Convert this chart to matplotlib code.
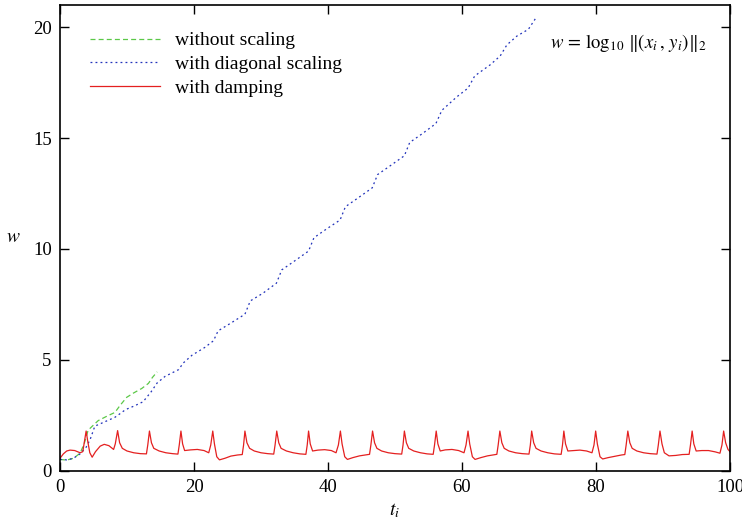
import matplotlib
matplotlib.use("Agg")
import matplotlib.pyplot as plt

plt.rcParams['font.family'] = ['Liberation Serif', 'DejaVu Serif']
plt.rcParams['mathtext.fontset'] = 'stix'

# ---- data ----
green_t = [0.0, 1.0, 2.0, 3.0, 3.6, 4.2, 5.0, 5.7, 7.0, 8.2, 9.0, 9.95, 11.0, 12.2, 13.2, 13.8, 14.5]
green_w = [0.50, 0.47, 0.55, 0.78, 1.20, 1.82, 2.05, 2.25, 2.45, 2.62, 2.95, 3.30, 3.50, 3.70, 3.93, 4.20, 4.45]

blue_t = [0.0, 1.0, 2.0, 3.0, 3.9, 4.5, 5.2, 6.7, 8.2, 8.9, 9.8, 11.0, 12.4, 13.6, 14.5, 15.7,
          17.7, 18.4, 19.7, 21.6, 22.9, 23.6, 25.5, 27.6, 28.4, 30.3, 32.3, 33.1, 35.0, 37.1,
          37.9, 39.8, 41.8, 42.6, 44.5, 46.6, 47.4, 49.3, 51.4, 52.2, 54.1, 56.1, 57.0, 59.2,
          60.9, 61.9, 64.2, 65.7, 66.7, 68.2, 69.9, 71.1]
blue_w = [0.50, 0.48, 0.55, 0.75, 1.05, 1.40, 2.00, 2.20, 2.40, 2.55, 2.75, 2.90, 3.10, 3.55, 3.95, 4.25,
          4.55, 4.85, 5.20, 5.55, 5.85, 6.30, 6.65, 7.05, 7.65, 8.00, 8.45, 9.05, 9.45, 9.90,
          10.50, 10.90, 11.30, 11.90, 12.30, 12.75, 13.35, 13.75, 14.20, 14.80, 15.20, 15.65, 16.25, 16.85,
          17.25, 17.80, 18.30, 18.70, 19.20, 19.60, 19.90, 20.45]

red_t = [0.0, 0.5, 1.0, 1.5, 2.2, 3.0, 3.4, 3.65, 3.9, 4.15, 4.45, 4.8, 5.3, 6.0, 6.6, 7.3, 8.0, 8.25, 8.6,
         8.9, 9.3, 10.0, 11.0, 12.0, 12.9, 13.1, 13.35,
         13.65, 14.0, 14.8, 15.8, 16.8, 17.6, 17.8, 18.05,
         18.3, 18.6, 19.5, 20.5, 21.5, 22.2, 22.5, 22.8,
         23.05, 23.4, 23.8, 24.6, 25.5, 26.5, 27.2, 27.4, 27.6,
         27.9, 28.3, 29.0, 30.0, 31.0, 31.9, 32.1, 32.35,
         32.65, 33.0, 33.8, 34.8, 35.8, 36.7, 36.9, 37.1,
         37.35, 37.7, 38.5, 39.5, 40.5, 41.2, 41.55, 41.85,
         42.1, 42.5, 42.9, 43.7, 44.7, 45.7, 46.2, 46.4, 46.65,
         46.95, 47.3, 48.0, 49.0, 50.0, 51.0, 51.2, 51.4,
         51.7, 52.05, 52.8, 53.8, 54.8, 55.7, 55.9, 56.15,
         56.4, 56.75, 57.5, 58.5, 59.5, 60.3, 60.6, 60.9,
         61.15, 61.55, 61.95, 62.8, 63.8, 64.8, 65.2, 65.4, 65.65,
         65.95, 66.3, 67.0, 68.0, 69.0, 70.0, 70.2, 70.4,
         70.7, 71.05, 71.8, 72.8, 73.8, 74.8, 75.0, 75.2,
         75.45, 75.8, 76.6, 77.6, 78.6, 79.4, 79.7, 79.95,
         80.2, 80.6, 81.0, 81.8, 82.8, 83.8, 84.3, 84.5, 84.75,
         85.05, 85.4, 86.1, 87.1, 88.1, 89.1, 89.3, 89.55,
         89.85, 90.2, 90.9, 91.9, 92.9, 93.9, 94.1, 94.35,
         94.6, 94.95, 95.8, 96.8, 97.8, 98.5, 98.8, 99.05,
         99.35, 99.7, 100.0]
red_w = [0.55, 0.75, 0.88, 0.92, 0.90, 0.80, 0.85, 1.30, 1.78, 1.30, 0.80, 0.60, 0.85, 1.10, 1.18, 1.12, 0.95, 1.20, 1.80,
         1.25, 1.00, 0.88, 0.80, 0.76, 0.75, 1.15, 1.78,
         1.25, 1.00, 0.88, 0.80, 0.76, 0.74, 1.15, 1.78,
         1.20, 0.90, 0.93, 0.95, 0.90, 0.80, 1.15, 1.78,
         1.20, 0.62, 0.48, 0.55, 0.65, 0.70, 0.72, 1.15, 1.78,
         1.25, 1.00, 0.88, 0.80, 0.76, 0.74, 1.15, 1.78,
         1.25, 1.00, 0.88, 0.80, 0.75, 0.73, 1.15, 1.78,
         1.20, 0.88, 0.92, 0.94, 0.90, 0.80, 1.15, 1.78,
         1.20, 0.62, 0.50, 0.58, 0.66, 0.71, 0.73, 1.15, 1.78,
         1.25, 1.00, 0.88, 0.80, 0.76, 0.74, 1.15, 1.78,
         1.25, 1.00, 0.88, 0.80, 0.75, 0.73, 1.15, 1.78,
         1.20, 0.88, 0.93, 0.95, 0.90, 0.80, 1.15, 1.78,
         1.20, 0.62, 0.50, 0.58, 0.66, 0.71, 0.73, 1.15, 1.78,
         1.25, 1.00, 0.88, 0.80, 0.76, 0.74, 1.15, 1.78,
         1.25, 1.00, 0.88, 0.80, 0.75, 0.73, 1.15, 1.78,
         1.20, 0.88, 0.90, 0.92, 0.88, 0.80, 1.15, 1.78,
         1.20, 0.62, 0.52, 0.58, 0.64, 0.70, 0.72, 1.15, 1.78,
         1.25, 1.00, 0.88, 0.80, 0.76, 0.74, 1.15, 1.78,
         1.20, 0.80, 0.66, 0.68, 0.72, 0.73, 1.15, 1.78,
         1.20, 0.88, 0.90, 0.90, 0.84, 0.78, 1.15, 1.78,
         1.25, 0.95, 0.85]

labels = ["without scaling", "with diagonal scaling", "with damping"]
x_ticks = [0, 20, 40, 60, 80, 100]
y_ticks = [0, 5, 10, 15, 20]

# ---- figure ----
fig = plt.figure(figsize=(7.42, 5.25), dpi=100)
ax = fig.add_axes([60/742, 1 - 470.5/525, 670/742, 465.5/525])

ax.plot(green_t, green_w, color='#5cc848', lw=0.9, ls=(0, (4, 2.5)), label=labels[0])
ax.plot(blue_t, blue_w, color='#2233bb', lw=0.9, ls=(0, (1.5, 2.5)), label=labels[1])
ax.plot(red_t, red_w, color='#e42020', lw=0.9, ls='-', label=labels[2])

ax.set_xlim(0, 100)
ax.set_ylim(0, 21)
ax.set_xticks(x_ticks)
ax.set_yticks(y_ticks)
ax.tick_params(direction='in', length=6.5, width=1.0, top=True, right=True,
               labelsize=13.5, pad=6)
for s in ax.spines.values():
    s.set_linewidth(1.2)

ax.set_xlabel(r'$t_i$', fontsize=14, labelpad=4)
ax.set_ylabel(r'$w$', fontsize=14, rotation=0, labelpad=14, va='center')

ax.text(0.965, 0.918, r'$w \,=\, \log_{10}\,\|(x_i\,,\,y_i)\|_2$', transform=ax.transAxes,
        ha='right', va='center', fontsize=13.5)

leg = ax.legend(loc='upper left', frameon=False, fontsize=14, handlelength=3.6,
                handletextpad=0.8, labelspacing=0.32, bbox_to_anchor=(0.018, 0.98))

fig.savefig('out.png', dpi=100)
